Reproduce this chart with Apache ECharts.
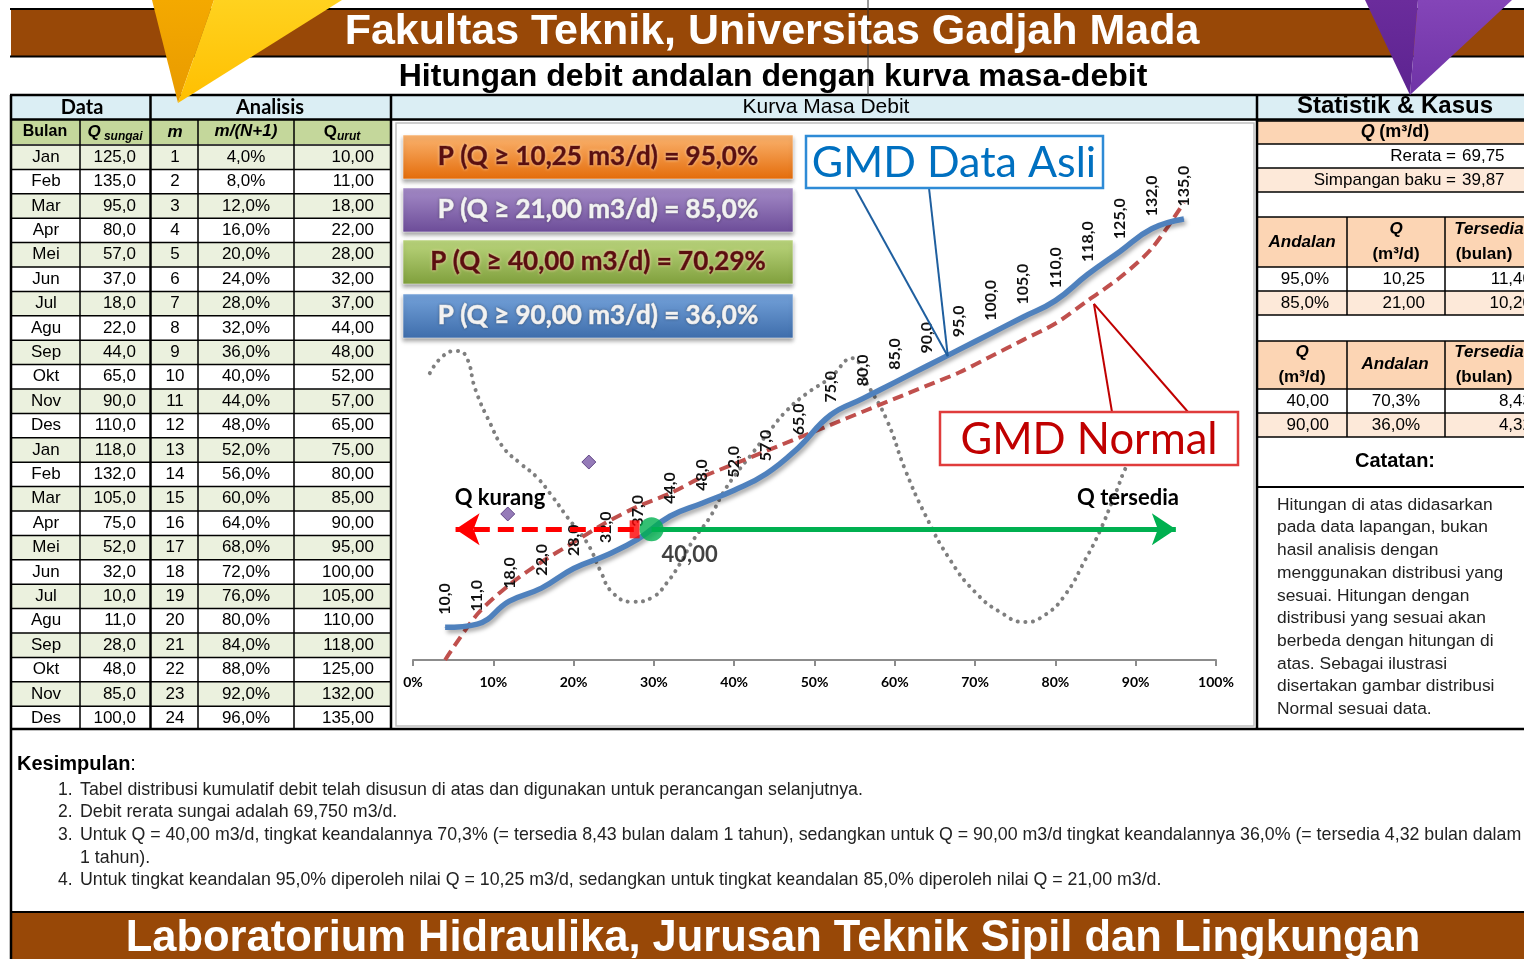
<!DOCTYPE html>
<html>
<head>
<meta charset="utf-8">
<title>Kurva Masa Debit</title>
<script src="https://cdn.jsdelivr.net/npm/echarts@6/dist/echarts.min.js"></script>
<style>
  html, body { margin: 0; padding: 0; background: #fff; }
  #chart { width: 1524px; height: 959px; }
</style>
</head>
<body>
<div id="chart"></div>
<script>
// ---- data ----
var bulan = ['Jan','Feb','Mar','Apr','Mei','Jun','Jul','Agu','Sep','Okt','Nov','Des',
             'Jan','Feb','Mar','Apr','Mei','Jun','Jul','Agu','Sep','Okt','Nov','Des'];
var qSungai = [125,135,95,80,57,37,18,22,44,65,90,110,118,132,105,75,52,32,10,11,28,48,85,100];
var peringkat = [1,2,3,4,5,6,7,8,9,10,11,12,13,14,15,16,17,18,19,20,21,22,23,24];
var probM = [4,8,12,16,20,24,28,32,36,40,44,48,52,56,60,64,68,72,76,80,84,88,92,96];
var qUrut = [10,11,18,22,28,32,37,44,48,52,57,65,75,80,85,90,95,100,105,110,118,125,132,135];

// kurva distribusi normal (garis putus merah)
var qNormal = [0,14,23,30,36,42,47,51,56,60,64,68,72,76,80,84,88,93,98,103,110,117,126,140];

// garis titik-titik abu-abu (ilustrasi distribusi)
var ilusX = [2.1,3.7,5.4,6.6,7.8,9.6,11.2,13.3,15.4,17.4,19.2,21.7,23.3,24.9,27.4,29.9,31.6,33.3,34.9,37.0,38.6,
             40.3,42.3,44.5,46.6,49.1,51.9,54.7,56.5,59.0,61.3,63.8,66.9,70.0,73.1,76.2,78.7,81.2,83.7,85.6,87.4,89.3,91.8,94.3];
var ilusY = [87.8,93.0,94.6,93.0,82.6,72.5,65.2,60.3,56.0,49.9,43.8,35.8,27.5,20.5,17.8,19.3,23.6,29.7,36.7,43.8,51.1,
             57.2,63.4,70.4,76.5,81.7,86.3,92.4,84.8,73.5,58.2,44.4,30.6,20.8,14.7,11.6,13.8,19.9,30.6,39.8,50.5,61.2,68.9,73.5];

var berlian = [[21.9, 60.6], [11.8, 44.7]];

var qRencana = 40;
var pRencana = 29.71;   // 100% - 70,29%

var kotakTeks = ['P (Q \u2265 10,25 m3/d) = 95,0%', 'P (Q \u2265 21,00 m3/d) = 85,0%',
                 'P (Q \u2265 40,00 m3/d) = 70,29%', 'P (Q \u2265 90,00 m3/d) = 36,0%'];

var rerata = '69,75';
var simpangan = '39,87';
var tabelAndalan = [['95,0%','10,25','11,40'], ['85,0%','21,00','10,20']];
var tabelQ = [['40,00','70,3%','8,43'], ['90,00','36,0%','4,32']];

var catatan = ['Hitungan di atas didasarkan', 'pada data lapangan, bukan', 'hasil analisis dengan',
  'menggunakan distribusi yang', 'sesuai. Hitungan dengan', 'distribusi yang sesuai akan',
  'berbeda dengan hitungan di', 'atas. Sebagai ilustrasi', 'disertakan gambar distribusi', 'Normal sesuai data.'];

var kesimpulan = [
  ['1.', 'Tabel distribusi kumulatif debit telah disusun di atas dan digunakan untuk perancangan selanjutnya.'],
  ['2.', 'Debit rerata sungai adalah 69,750 m3/d.'],
  ['3.', 'Untuk Q = 40,00 m3/d, tingkat keandalannya 70,3% (= tersedia 8,43 bulan dalam 1 tahun), sedangkan untuk Q = 90,00 m3/d tingkat keandalannya 36,0% (= tersedia 4,32 bulan dalam'],
  ['', '1 tahun).'],
  ['4.', 'Untuk tingkat keandalan 95,0% diperoleh nilai Q = 10,25 m3/d, sedangkan untuk tingkat keandalan 85,0% diperoleh nilai Q = 21,00 m3/d.']
];

// ---- font & warna ----
var F_ARIAL = '"Liberation Sans", Arial, sans-serif';
var F_NARROW = '"Liberation Sans Narrow", "Liberation Sans", Arial, sans-serif';
var F_CAL = 'Lato, "Open Sans", sans-serif';
var COKLAT = '#984807';
var BIRU_MUDA = '#dbeef4';
var HIJAU_HEAD = '#c4d79b';
var HIJAU_BARIS = '#ebf1de';
var PEACH = '#fcd5b4';
var PEACH_MUDA = '#fde9d9';

function fmt(v, d) { return v.toFixed(d).replace('.', ','); }
function pasang(xs, ys) { return xs.map(function (x, i) { return [x, ys[i]]; }); }

var chart = echarts.init(document.getElementById('chart'));

chart.setOption({
  animation: false,
  backgroundColor: '#fff',
  grid: { left: 413, right: 308, top: 170, bottom: 299 },
  xAxis: {
    type: 'value', min: 0, max: 100, interval: 10,
    axisLine: { lineStyle: { color: '#8c8c8c', width: 2 } },
    axisTick: { length: 6, lineStyle: { color: '#8c8c8c', width: 2 } },
    splitLine: { show: false },
    axisLabel: { formatter: '{value}%', fontFamily: F_CAL, fontWeight: 'bold', fontSize: 14, color: '#000', margin: 15 }
  },
  yAxis: { type: 'value', min: 0, max: 150, show: false },
  series: [
    {
      name: 'ilustrasi', type: 'line', smooth: 0.5, symbol: 'none', z: 1,
      data: pasang(ilusX, ilusY),
      lineStyle: { color: '#7f7f7f', width: 4, type: [0.1, 7.5], cap: 'round' }
    },
    {
      name: 'GMD Normal', type: 'line', smooth: 0.3, symbol: 'none', z: 2,
      data: pasang(probM, qNormal),
      lineStyle: { color: '#c0504d', width: 4, type: [11, 6] }
    },
    {
      name: 'GMD Data Asli', type: 'line', smooth: 0.45, symbol: 'circle', symbolSize: 1, z: 3,
      data: pasang(probM, qUrut),
      itemStyle: { color: '#4f81bd' },
      lineStyle: { color: '#4f81bd', width: 5.5, shadowColor: 'rgba(0,0,0,0.35)', shadowBlur: 4, shadowOffsetX: 2, shadowOffsetY: 3 },
      label: {
        show: true, position: 'top', rotate: 90, align: 'left', verticalAlign: 'middle', distance: 12,
        fontFamily: F_CAL, fontWeight: 'bold', fontSize: 16, color: '#111',
        formatter: function (p) { return fmt(p.value[1], 1); }
      }
    },
    {
      name: 'Q kurang', type: 'lines', coordinateSystem: 'cartesian2d', z: 4,
      symbol: ['none', 'arrow'], symbolSize: 24,
      data: [{ coords: [[27.5, qRencana], [5.3, qRencana]] }],
      lineStyle: { color: '#ff0000', width: 5, type: [16, 8], opacity: 1 }
    },
    {
      name: 'Q tersedia', type: 'lines', coordinateSystem: 'cartesian2d', z: 4,
      symbol: ['none', 'arrow'], symbolSize: 24,
      data: [{ coords: [[pRencana, qRencana], [95.0, qRencana]] }],
      lineStyle: { color: '#00b050', width: 5, opacity: 1 }
    },
    {
      name: 'batas', type: 'scatter', symbol: 'rect', symbolSize: [10, 18], z: 5,
      data: [[27.6, qRencana]], itemStyle: { color: '#ff0000' }
    },
    {
      name: 'Q rencana', type: 'scatter', symbolSize: 24, z: 6,
      data: [[pRencana, qRencana]], itemStyle: { color: '#00b050' },
      label: {
        show: true, position: 'bottom', offset: [38, -2], fontFamily: F_CAL, fontWeight: 'bold', fontSize: 22, color: '#111',
        formatter: function (p) { return fmt(p.value[1], 2); }
      }
    },
    {
      name: 'titik', type: 'scatter', symbol: 'diamond', symbolSize: 14, z: 5,
      data: berlian,
      itemStyle: { color: '#7b5aa6', borderColor: '#4b2e73', borderWidth: 1 }
    }
  ]
});

// ---- elemen grafis (tata letak lembar kerja) ----
var el = [];
function kotak(x, y, w, h, fill, stroke, lw, z, extra) {
  var o = { type: 'rect', shape: { x: x, y: y, width: w, height: h },
    style: { fill: fill || 'none', stroke: stroke || null, lineWidth: lw || 0 }, z: z || 0, silent: true };
  if (extra) for (var k in extra) o.style[k] = extra[k];
  el.push(o);
}
function garis(x1, y1, x2, y2, warna, lw, z) {
  el.push({ type: 'line', shape: { x1: x1, y1: y1, x2: x2, y2: y2 },
    style: { stroke: warna || '#000', lineWidth: lw || 1.5 }, z: z || 1, silent: true });
}
function teks(x, y, s, o) {
  o = o || {};
  var st = { text: s, x: x, y: y, fill: o.fill || '#000', align: o.align || 'center', verticalAlign: 'middle',
    fontFamily: o.font || F_ARIAL, fontSize: o.size || 17, fontWeight: o.weight || 'normal', fontStyle: o.style || 'normal' };
  if (o.rich) st.rich = o.rich;
  if (o.shadow) { st.textShadowColor = o.shadow; st.textShadowBlur = 3; }
  if (o.tebal) { st.stroke = o.fill; st.lineWidth = o.tebal; }
  el.push({ type: 'text', style: st, z: o.z || 3, silent: true });
}
function poligon(pts, fill, z) {
  el.push({ type: 'polygon', shape: { points: pts }, style: { fill: fill }, z: z || 20, silent: true });
}
function grad(c1, c2) {
  return new echarts.graphic.LinearGradient(0, 0, 0, 1, [{ offset: 0, color: c1 }, { offset: 1, color: c2 }]);
}

// judul atas
garis(10, 9, 1524, 9, '#000', 2);
kotak(11, 10, 1513, 46, COKLAT);
garis(10, 56.5, 1524, 56.5, '#000', 2);
teks(772, 32, 'Fakultas Teknik, Universitas Gadjah Mada', { fill: '#fff', size: 43, weight: 'bold', font: F_NARROW });
teks(773, 77, 'Hitungan debit andalan dengan kurva masa-debit', { size: 32, weight: 'bold', font: F_NARROW });
garis(868, 0, 868, 95, '#333', 1, 2);

// baris judul bagian
garis(10, 95, 1524, 95, '#000', 2.5);
kotak(12, 96, 1512, 23, BIRU_MUDA);
garis(10, 119.5, 1524, 119.5, '#000', 2.5);
teks(82, 108, 'Data', { size: 20, weight: 'bold', font: F_CAL });
teks(270, 108, 'Analisis', { size: 20, weight: 'bold', font: F_CAL });
teks(826, 107, 'Kurva Masa Debit', { size: 21, font: F_ARIAL });
teks(1395, 106, 'Statistik & Kasus', { size: 24, weight: 'bold', font: F_NARROW });

// tabel data & analisis
var barisAtas = 145, tinggiBaris = 24.4;
kotak(12, 120, 378, 24, HIJAU_HEAD);
for (var i = 0; i < bulan.length; i++) {
  var yT = barisAtas + i * tinggiBaris;
  kotak(12, yT, 378, tinggiBaris, i % 2 === 0 ? HIJAU_BARIS : '#fff');
  garis(12, yT, 390, yT, '#000', 1.5);
  var yc = yT + tinggiBaris / 2;
  teks(46, yc, bulan[i]);
  teks(136, yc, fmt(qSungai[i], 1), { align: 'right' });
  teks(175, yc, String(peringkat[i]));
  teks(246, yc, fmt(probM[i], 1) + '%');
  teks(374, yc, fmt(qUrut[i], 2), { align: 'right' });
}
[80, 198, 294].forEach(function (x) { garis(x, 120, x, 729, '#000', 1.5); });
[11, 150.5, 391].forEach(function (x) { garis(x, 95, x, 729, '#000', 2.5); });
var hStyle = { weight: 'bold', size: 16, font: F_NARROW };
teks(45, 132, 'Bulan', hStyle);
teks(115, 132, '{q|Q}{s| sungai}', { rich: {
  q: { fontFamily: F_NARROW, fontSize: 17, fontWeight: 'bold', fontStyle: 'italic' },
  s: { fontFamily: F_NARROW, fontSize: 12, fontWeight: 'bold', fontStyle: 'italic', padding: [9, 0, 0, 0] } } });
teks(175, 132, 'm', { weight: 'bold', size: 17, style: 'italic', font: F_NARROW });
teks(246, 131, 'm/(N+1)', { weight: 'bold', size: 17, style: 'italic', font: F_NARROW });
teks(342, 132, '{q|Q}{s|urut}', { rich: {
  q: { fontFamily: F_NARROW, fontSize: 17, fontWeight: 'bold' },
  s: { fontFamily: F_NARROW, fontSize: 12, fontWeight: 'bold', fontStyle: 'italic', padding: [9, 0, 0, 0] } } });

// panel grafik
garis(1257, 95, 1257, 729, '#000', 2.5);
kotak(396, 123, 858, 603, 'none', '#bfbfbf', 1.5, 0, { r: 4 });

// kotak probabilitas
var warnaKotak = [['#fbb470', '#e46c0a', '#5a0f0f'], ['#a58cc8', '#6c4c98', '#f2f2f2'],
                  ['#bcd67e', '#7f9f3c', '#5a0f0f'], ['#74a2da', '#3e6dab', '#f2f2f2']];
var yKotak = [135, 188, 240, 294];
kotakTeks.forEach(function (s, k) {
  kotak(403, yKotak[k], 390, 44, grad(warnaKotak[k][0], warnaKotak[k][1]), 'rgba(255,255,255,0.5)', 1, 10,
    { shadowColor: 'rgba(0,0,0,0.35)', shadowBlur: 4, shadowOffsetY: 3 });
  teks(598, yKotak[k] + 22, s, { size: 26, weight: 'bold', font: F_CAL, fill: warnaKotak[k][2], z: 11, tebal: 0.7,
    shadow: warnaKotak[k][2] === '#5a0f0f' ? 'rgba(255,220,180,0.8)' : 'rgba(0,0,0,0.3)' });
});

// keterangan kurva
var pAsli = chart.convertToPixel({ gridIndex: 0 }, [66.6, 93]);
var pNorm = chart.convertToPixel({ gridIndex: 0 }, [84.8, 109]);
garis(855, 188, pAsli[0], pAsli[1], '#1f5f9f', 2, 9);
garis(929, 188, pAsli[0], pAsli[1], '#1f5f9f', 2, 9);
kotak(806, 136, 297, 52, '#fff', '#2e8bd6', 2.5, 10);
teks(954, 163, 'GMD Data Asli', { size: 43, font: F_CAL, fill: '#0070c0', z: 11 });
garis(1112, 412, pNorm[0], pNorm[1], '#c00000', 2, 9);
garis(1188, 412, pNorm[0], pNorm[1], '#c00000', 2, 9);
kotak(940, 412, 298, 53, '#fff', '#e03c3c', 2.5, 10);
teks(1089, 440, 'GMD Normal', { size: 43.5, font: F_CAL, fill: '#c00000', z: 11 });
teks(500, 498, 'Q kurang', { size: 22, weight: 'bold', font: F_CAL, z: 11 });
teks(1128, 498, 'Q tersedia', { size: 22, weight: 'bold', font: F_CAL, z: 11 });

// panel statistik
var panel = [
  [121, 23, PEACH], [144, 24, '#fff'], [168, 24, PEACH_MUDA], [192, 25, '#fff'],
  [217, 50, PEACH], [267, 24, '#fff'], [291, 24, PEACH_MUDA], [315, 26, '#fff'],
  [341, 48, PEACH], [389, 24, '#fff'], [413, 24, PEACH_MUDA], [437, 50, '#fff']
];
panel.forEach(function (r) {
  kotak(1258, r[0], 266, r[1], r[2]);
  garis(1258, r[0], 1524, r[0], '#000', 1.5);
});
garis(1258, 487, 1524, 487, '#000', 2);
[[217, 315], [341, 437]].forEach(function (s) {
  garis(1347, s[0], 1347, s[1], '#000', 1.5);
  garis(1445, s[0], 1445, s[1], '#000', 1.5);
});
var tebalMiring = { q: { fontFamily: F_ARIAL, fontSize: 18, fontWeight: 'bold', fontStyle: 'italic' },
                    b: { fontFamily: F_ARIAL, fontSize: 18, fontWeight: 'bold' } };
teks(1395, 132, '{q|Q} {b|(m\u00b3/d)}', { rich: tebalMiring });
teks(1456, 156, 'Rerata =', { align: 'right' });
teks(1462, 156, rerata, { align: 'left' });
teks(1456, 180, 'Simpangan baku =', { align: 'right' });
teks(1462, 180, simpangan, { align: 'left' });

var hb = { weight: 'bold', size: 17 };
var hbi = { weight: 'bold', size: 17, style: 'italic' };
teks(1302, 242, 'Andalan', hbi);
teks(1396, 229, 'Q', hbi); teks(1396, 254, '(m\u00b3/d)', hb);
teks(1489, 229, 'Tersedia', hbi); teks(1484, 254, '(bulan)', hb);
tabelAndalan.forEach(function (r, k) {
  var y = 279 + k * 24;
  teks(1329, y, r[0], { align: 'right' });
  teks(1425, y, r[1], { align: 'right' });
  teks(1532, y, r[2], { align: 'right' });
});
teks(1302, 352, 'Q', hbi); teks(1302, 377, '(m\u00b3/d)', hb);
teks(1395, 364, 'Andalan', hbi);
teks(1489, 352, 'Tersedia', hbi); teks(1484, 377, '(bulan)', hb);
tabelQ.forEach(function (r, k) {
  var y = 401 + k * 24;
  teks(1329, y, r[0], { align: 'right' });
  teks(1420, y, r[1], { align: 'right' });
  teks(1532, y, r[2], { align: 'right' });
});
teks(1395, 461, 'Catatan:', { weight: 'bold', size: 20 });
catatan.forEach(function (s, k) {
  teks(1277, 505 + k * 22.7, s, { align: 'left', fill: '#222', size: 17.4 });
});

// kesimpulan
garis(10, 729, 1524, 729, '#000', 2.5);
garis(11, 729, 11, 959, '#000', 2.5);
teks(17, 764, '{b|Kesimpulan}{n|:}', { align: 'left', rich: {
  b: { fontFamily: F_ARIAL, fontSize: 20, fontWeight: 'bold' }, n: { fontFamily: F_ARIAL, fontSize: 20 } } });
kesimpulan.forEach(function (r, k) {
  var y = 790 + k * 22.6;
  if (r[0]) teks(58, y, r[0], { align: 'left', size: 17.5, fill: '#222' });
  teks(80, y, r[1], { align: 'left', size: 17.8, fill: '#222' });
});

// judul bawah
garis(10, 912, 1524, 912, '#000', 2);
kotak(12, 913, 1512, 46, COKLAT);
teks(773, 939, 'Laboratorium Hidraulika, Jurusan Teknik Sipil dan Lingkungan', { fill: '#fff', size: 43.5, weight: 'bold', font: F_NARROW });

// segitiga hiasan
poligon([[152, 0], [214, 0], [178, 103]], grad('#f4a900', '#e89a00'), 20);
poligon([[214, 0], [342, 0], [178, 103]], grad('#ffd21f', '#ffbf00'), 20);
poligon([[1365, 0], [1418, 0], [1410, 95]], grad('#6b2c9c', '#5c2390'), 20);
poligon([[1418, 0], [1512, 0], [1410, 95]], grad('#8445b8', '#6f33a6'), 20);

chart.setOption({ graphic: { elements: el } });
</script>
</body>
</html>
